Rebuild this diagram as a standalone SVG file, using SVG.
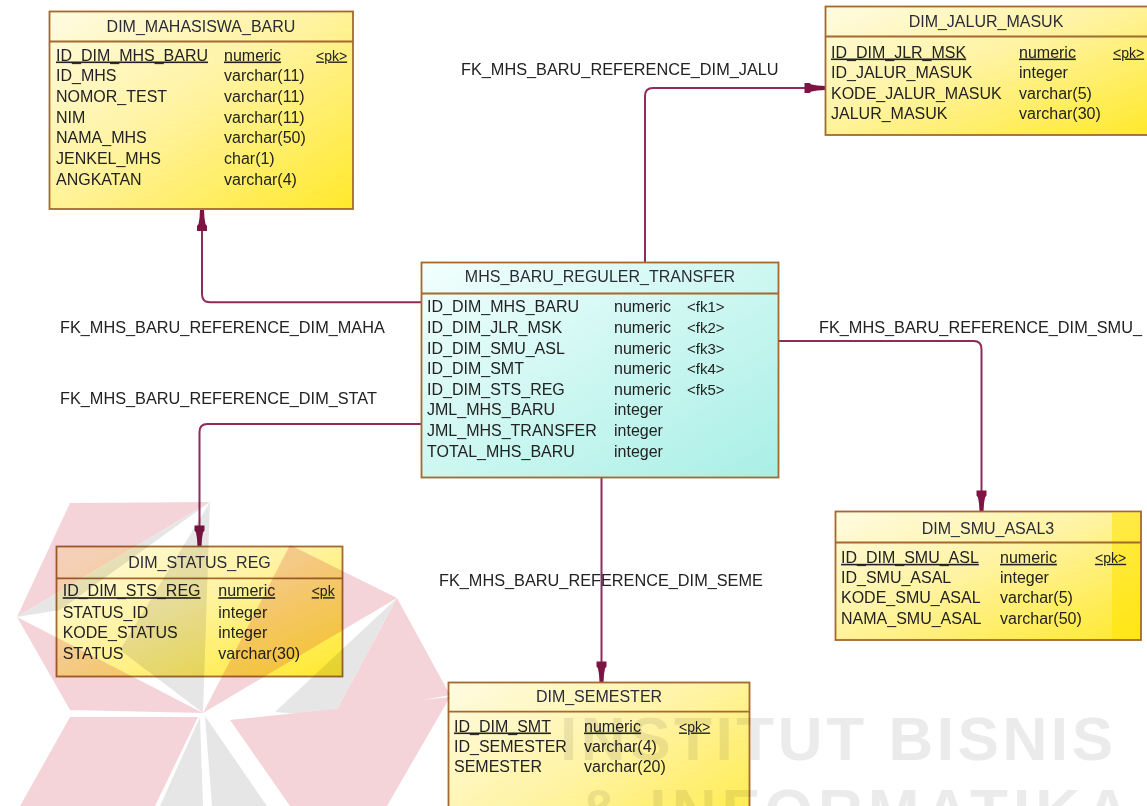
<svg xmlns="http://www.w3.org/2000/svg" width="1147" height="806" viewBox="0 0 1147 806">
<style>
text { font-family: "Liberation Sans", Arial, sans-serif; font-size: 16px; fill: #222; }
.ttl { text-anchor: middle; fill: #2b2b38; }
.u { text-decoration: underline; }
.k { font-size: 14px; }
.fk { font-size: 15px; }
.lbl { font-size: 16.3px; }
.box { stroke: #a3692f; stroke-width: 1.8; }
.y { fill: url(#gy); }
.c { fill: url(#gc); }
.div { stroke: #a3692f; stroke-width: 1.8; }
.conn { fill: none; stroke: #8e2a5c; stroke-width: 2; marker-end: url(#fk); }
.pink { fill: #f3cdd1; }
.gray { fill: #e2e2e2; }
.wm { font-family: "Liberation Sans", Arial, sans-serif; font-weight: bold; font-size: 62px; fill: #e8e8e8; }
</style>
<defs>
<linearGradient id="gy" x1="0" y1="0" x2="1" y2="1">
<stop offset="0" stop-color="#fffbe2"/>
<stop offset="0.45" stop-color="#fff3a2"/>
<stop offset="1" stop-color="#ffe92a"/>
</linearGradient>
<linearGradient id="gc" x1="0" y1="0" x2="1" y2="1">
<stop offset="0" stop-color="#f2fffd"/>
<stop offset="1" stop-color="#a8efe6"/>
</linearGradient>
<marker id="fk" markerUnits="userSpaceOnUse" markerWidth="24" markerHeight="12" viewBox="-22 -6 24 12" refX="0" refY="0" orient="auto" overflow="visible">
<path d="M0,-2 L-8,-2.5 L-14,-3.5 L-16,-5 L-21,-5 L-21,5 L-16,5 L-14,3.5 L-8,2.5 L0,2 Z" fill="#7e1443"/>
</marker>
</defs>
<rect width="1147" height="806" fill="#ffffff"/>

<g id="connectors">
<path class="conn" d="M421.5,302.3 H210 Q202,302.3 202,294.3 V210"/>
<path class="conn" d="M421.5,424 H207.5 Q199.5,424 199.5,432 V546.5"/>
<path class="conn" d="M645,262.5 V96 Q645,88 653,88 H825.5"/>
<path class="conn" d="M778.5,341 H973.5 Q981.5,341 981.5,349 V511.5"/>
<path class="conn" d="M601.5,477.5 V682.5"/>
<text class="lbl" x="461" y="75">FK_MHS_BARU_REFERENCE_DIM_JALU</text>
<text class="lbl" x="60" y="333">FK_MHS_BARU_REFERENCE_DIM_MAHA</text>
<text class="lbl" x="60" y="404">FK_MHS_BARU_REFERENCE_DIM_STAT</text>
<text class="lbl" x="819" y="333">FK_MHS_BARU_REFERENCE_DIM_SMU_</text>
<text class="lbl" x="439" y="586">FK_MHS_BARU_REFERENCE_DIM_SEME</text>
</g>

<g id="dim_mahasiswa_baru">
<rect class="box y" x="49.5" y="11.5" width="303.5" height="197.5"/>
<line class="div" x1="49.5" y1="41.5" x2="353" y2="41.5"/>
<text class="ttl" x="201" y="31.5">DIM_MAHASISWA_BARU</text>
<text class="u" x="56" y="60.5">ID_DIM_MHS_BARU</text>
<text class="u" x="224" y="60.5">numeric</text>
<text class="u k" x="316" y="60.5">&lt;pk&gt;</text>
<text x="56" y="81.2">ID_MHS</text><text x="224" y="81.2">varchar(11)</text>
<text x="56" y="101.8">NOMOR_TEST</text><text x="224" y="101.8">varchar(11)</text>
<text x="56" y="122.5">NIM</text><text x="224" y="122.5">varchar(11)</text>
<text x="56" y="143.2">NAMA_MHS</text><text x="224" y="143.2">varchar(50)</text>
<text x="56" y="163.8">JENKEL_MHS</text><text x="224" y="163.8">char(1)</text>
<text x="56" y="184.5">ANGKATAN</text><text x="224" y="184.5">varchar(4)</text>
</g>

<g id="dim_jalur_masuk">
<rect class="box y" x="825.5" y="6.5" width="323" height="128.5"/>
<line class="div" x1="825.5" y1="36.5" x2="1148.5" y2="36.5"/>
<text class="ttl" x="986" y="26.5">DIM_JALUR_MASUK</text>
<text class="u" x="831" y="57.5">ID_DIM_JLR_MSK</text>
<text class="u" x="1019" y="57.5">numeric</text>
<text class="u k" x="1113" y="57.5">&lt;pk&gt;</text>
<text x="831" y="78">ID_JALUR_MASUK</text><text x="1019" y="78">integer</text>
<text x="831" y="98.5">KODE_JALUR_MASUK</text><text x="1019" y="98.5">varchar(5)</text>
<text x="831" y="119">JALUR_MASUK</text><text x="1019" y="119">varchar(30)</text>
</g>

<g id="mhs_baru_reguler_transfer">
<rect class="box c" x="421.5" y="262.5" width="357" height="215"/>
<line class="div" x1="421.5" y1="293.5" x2="778.5" y2="293.5"/>
<text class="ttl" x="600" y="282">MHS_BARU_REGULER_TRANSFER</text>
<text x="427" y="312.2">ID_DIM_MHS_BARU</text><text x="614" y="312.2">numeric</text><text class="fk" x="687" y="312.2">&lt;fk1&gt;</text>
<text x="427" y="332.8">ID_DIM_JLR_MSK</text><text x="614" y="332.8">numeric</text><text class="fk" x="687" y="332.8">&lt;fk2&gt;</text>
<text x="427" y="353.5">ID_DIM_SMU_ASL</text><text x="614" y="353.5">numeric</text><text class="fk" x="687" y="353.5">&lt;fk3&gt;</text>
<text x="427" y="374.1">ID_DIM_SMT</text><text x="614" y="374.1">numeric</text><text class="fk" x="687" y="374.1">&lt;fk4&gt;</text>
<text x="427" y="394.8">ID_DIM_STS_REG</text><text x="614" y="394.8">numeric</text><text class="fk" x="687" y="394.8">&lt;fk5&gt;</text>
<text x="427" y="415.4">JML_MHS_BARU</text><text x="614" y="415.4">integer</text>
<text x="427" y="436.1">JML_MHS_TRANSFER</text><text x="614" y="436.1">integer</text>
<text x="427" y="456.7">TOTAL_MHS_BARU</text><text x="614" y="456.7">integer</text>
</g>

<g id="dim_smu_asal3">
<rect class="box y" x="835.5" y="511.5" width="305.5" height="128.5"/>
<rect x="1112" y="512.5" width="28" height="126.5" fill="#ffe400" opacity="0.55"/>
<line class="div" x1="835.5" y1="542.5" x2="1141" y2="542.5"/>
<text class="ttl" x="988" y="533.5">DIM_SMU_ASAL3</text>
<text class="u" x="841" y="562.8">ID_DIM_SMU_ASL</text>
<text class="u" x="1000" y="562.8">numeric</text>
<text class="u k" x="1095" y="562.8">&lt;pk&gt;</text>
<text x="841" y="583.1">ID_SMU_ASAL</text><text x="1000" y="583.1">integer</text>
<text x="841" y="603.3">KODE_SMU_ASAL</text><text x="1000" y="603.3">varchar(5)</text>
<text x="841" y="623.5">NAMA_SMU_ASAL</text><text x="1000" y="623.5">varchar(50)</text>
</g>

<g id="dim_status_reg">
<rect class="box y" x="56.5" y="546.5" width="286" height="130"/>
<line class="div" x1="56.5" y1="578.3" x2="342.5" y2="578.3"/>
<text class="ttl" x="199.5" y="567.8">DIM_STATUS_REG</text>
<text class="u" x="62.7" y="596.2">ID_DIM_STS_REG</text>
<text class="u" x="218.3" y="596.2">numeric</text>
<text class="u k" x="311.7" y="596.2">&lt;pk</text>
<text x="62.7" y="617.8">STATUS_ID</text><text x="218.3" y="617.8">integer</text>
<text x="62.7" y="638.2">KODE_STATUS</text><text x="218.3" y="638.2">integer</text>
<text x="62.7" y="658.8">STATUS</text><text x="218.3" y="658.8">varchar(30)</text>
</g>

<g id="dim_semester">
<rect class="box y" x="448.5" y="682.5" width="301" height="200"/>
<line class="div" x1="448.5" y1="711.7" x2="749.5" y2="711.7"/>
<text class="ttl" x="599" y="701.5">DIM_SEMESTER</text>
<text class="u" x="454" y="731.5">ID_DIM_SMT</text>
<text class="u" x="584" y="731.5">numeric</text>
<text class="u k" x="679" y="731.5">&lt;pk&gt;</text>
<text x="454" y="751.8">ID_SEMESTER</text><text x="584" y="751.8">varchar(4)</text>
<text x="454" y="772.2">SEMESTER</text><text x="584" y="772.2">varchar(20)</text>
</g>

<g id="watermark" style="mix-blend-mode:multiply" opacity="0.85">
<polygon class="pink" points="70,503 210,502 17,617"/>
<polygon class="gray" points="210,502 17,617 60,610"/>
<polygon class="gray" points="210,502 120,650 203,713"/>
<polygon class="pink" points="17,617 203,713 70,710"/>
<polygon class="pink" points="203,713 290,545 397,598"/>
<polygon class="gray" points="397,598 333,717 275,712"/>
<polygon class="pink" points="397,598 450,695 333,717"/>
<polygon class="pink" points="230,720 450,697 387,806 290,806"/>
<polygon class="gray" points="205,716 267,806 212,806"/>
<polygon class="pink" points="70,717 198,717 155,806 20,806"/>
<polygon class="gray" points="200,717 203,806 160,806"/>
<text class="wm" x="560" y="760" textLength="553" lengthAdjust="spacing">INSTITUT BISNIS</text>
<text class="wm" x="577" y="832" textLength="553" lengthAdjust="spacing">&amp; INFORMATIKA</text>
</g>
</svg>
